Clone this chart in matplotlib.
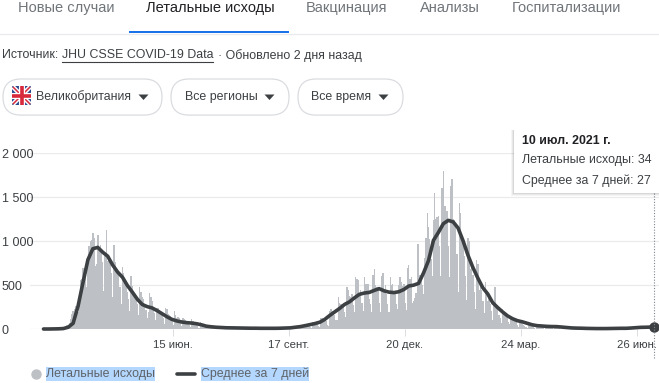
# -*- coding: utf-8 -*-

import numpy as np
import pandas as pd
import matplotlib
matplotlib.use('Agg')
import matplotlib.pyplot as plt
import matplotlib.dates as mdates
from matplotlib.patches import FancyBboxPatch, Rectangle, Polygon

plt.rcParams['font.family'] = ['Liberation Sans', 'DejaVu Sans']

# дневные значения, по неделям пн..вс, первая неделя с 2 марта 2020
daily_deaths = [
    0, 0, 0, 0, 1, 1, 0,
    1, 0, 2, 3, 2, 4, 5,
    5, 10, 15, 20, 30, 40, 45,
    70, 110, 170, 200, 230, 260, 230,
    190, 380, 560, 570, 690, 700, 660,
    480, 790, 950, 1000, 1010, 1095, 1040,
    720, 740, 1068, 900, 960, 880, 760,
    430, 830, 1130, 780, 800, 790, 640,
    360, 955, 760, 680, 650, 620, 480,
    280, 708, 640, 550, 500, 420, 340,
    200, 602, 490, 430, 380, 340, 280,
    160, 480, 420, 360, 340, 280, 220,
    120, 190, 405, 370, 320, 240, 180,
    100, 245, 240, 220, 200, 170, 130,
    60, 245, 230, 170, 160, 150, 100,
    50, 200, 160, 130, 140, 120, 80,
    30, 125, 110, 100, 90, 70, 50,
    20, 110, 95, 80, 70, 50, 35,
    15, 85, 70, 60, 50, 30, 20,
    8, 45, 40, 30, 25, 15, 10,
    5, 30, 28, 22, 20, 12, 6,
    3, 22, 20, 15, 14, 9, 5,
    2, 18, 16, 12, 10, 7, 4,
    2, 14, 12, 10, 9, 5, 3,
    1, 12, 12, 9, 8, 6, 2,
    1, 11, 10, 9, 8, 5, 2,
    2, 11, 11, 9, 8, 6, 3,
    2, 12, 10, 10, 9, 7, 3,
    3, 15, 14, 12, 10, 8, 5,
    4, 25, 22, 20, 18, 15, 10,
    10, 50, 48, 40, 35, 30, 20,
    15, 75, 70, 65, 60, 55, 35,
    20, 130, 125, 110, 100, 90, 50,
    30, 210, 230, 200, 180, 160, 100,
    100, 360, 300, 280, 270, 260, 190,
    140, 480, 450, 380, 370, 400, 270,
    190, 590, 570, 560, 380, 450, 300,
    210, 590, 510, 510, 510, 340, 280,
    190, 610, 685, 500, 480, 480, 300,
    190, 600, 640, 420, 500, 400, 280,
    190, 590, 500, 510, 420, 400, 280,
    230, 500, 595, 530, 490, 510, 300,
    220, 690, 735, 570, 590, 300, 320,
    350, 410, 965, 970, 620, 610, 500,
    400, 810, 1040, 1320, 1160, 1030, 800,
    600, 1240, 1555, 1250, 1280, 1290, 950,
    600, 1610, 1805, 1400, 1400, 1350, 950,
    590, 1630, 1715, 1250, 1240, 1200, 850,
    420, 1440, 1320, 1010, 1010, 830, 600,
    330, 1040, 1000, 680, 760, 620, 420,
    230, 790, 740, 450, 530, 450, 320,
    180, 535, 440, 320, 350, 290, 210,
    105, 315, 480, 240, 230, 160, 130,
    65, 230, 190, 180, 175, 120, 80,
    60, 110, 140, 95, 100, 90, 50,
    20, 95, 70, 60, 50, 30, 25,
    10, 55, 50, 40, 50, 20, 15,
    5, 20, 40, 40, 35, 30, 12,
    5, 25, 30, 30, 25, 30, 8,
    4, 20, 25, 22, 20, 10, 5,
    1, 18, 15, 14, 12, 8, 3,
    1, 3, 10, 8, 10, 7, 3,
    2, 7, 10, 8, 8, 5, 2,
    1, 7, 6, 7, 7, 6, 2,
    2, 8, 5, 6, 6, 6, 2,
    1, 1, 3, 6, 6, 8, 3,
    1, 5, 6, 8, 8, 7, 3,
    3, 10, 9, 12, 11, 11, 7,
    3, 16, 19, 15, 12, 11, 6,
    4, 20, 20, 18, 20, 22, 14,
    6, 37, 33, 27, 35, 34,
]

# среднее за 7 дней, снято через каждые 4 дня + последняя точка
avg_offsets = list(range(0, 493, 4)) + [495]
avg_values = [
    0, 0, 1, 2, 5, 20, 65, 260, 530, 790, 915, 930, 875, 830, 730, 650,
    590, 495, 420, 340, 280, 255, 240, 210, 175, 140, 110, 92, 80, 72, 68, 60,
    48, 32, 25, 20, 17, 14, 13, 12, 11, 10, 9, 9, 8, 8, 8, 8,
    9, 11, 13, 20, 27, 38, 50, 62, 78, 110, 155, 195, 235, 280, 310, 355,
    395, 410, 417, 440, 460, 435, 420, 415, 425, 450, 490, 500, 520, 640, 780, 1010,
    1100, 1200, 1238, 1220, 1150, 1005, 840, 700, 580, 470, 400, 300, 245, 195, 150, 118,
    95, 82, 65, 48, 38, 34, 30, 28, 27, 22, 17, 12, 10, 9, 7, 6,
    5, 5, 5, 6, 7, 8, 8, 11, 15, 19, 20, 22, 27,
]

start_date = '2020-03-02'
tick_dates = ['2020-06-15', '2020-09-17', '2020-12-20', '2021-03-24', '2021-06-26']
tick_labels = ['15 июн.', '17 сент.', '20 дек.', '24 мар.', '26 июн.']
y_ticks = [0, 500, 1000, 1500, 2000]
y_labels = ['0', '500', '1 000', '1 500', '2 000']

tab_names = ['Новые случаи', 'Летальные исходы', 'Вакцинация', 'Анализы', 'Госпитализации']
filter_names = ['Великобритания', 'Все регионы', 'Все время']

W, H = 659, 383
days = pd.date_range(start_date, periods=len(daily_deaths))
avg_days = pd.Timestamp(start_date) + pd.to_timedelta(avg_offsets, unit='D')

fig = plt.figure(figsize=(W / 100, H / 100), dpi=100)

# область графика: ось y 0 на 329px, 2000 на 153.5px
ax = fig.add_axes([30 / W, (H - 329) / H, (W - 30) / W, 175.5 / H])
first_num = mdates.date2num(days[0])
px_per_day = 1.234
ax.set_xlim(first_num - (43.5 - 30) / px_per_day, first_num + (W - 43.5) / px_per_day)
ax.set_ylim(0, 2000)

ax.bar(days, daily_deaths, width=1.15, color='#bdc1c6', linewidth=0, zorder=2)
ax.plot(avg_days, avg_values, color='#3c4043', lw=2.6, zorder=4, solid_capstyle='round',
        clip_on=False)
ax.plot(days[-1], avg_values[-1], 'o', color='#3c4043', ms=6.5, zorder=5, clip_on=False)

for s in ax.spines.values():
    s.set_visible(False)
ax.set_yticks(y_ticks)
ax.set_yticklabels(y_labels, color='#3c4043', fontsize=9)
for lab in ax.get_yticklabels():
    lab.set_ha('left')
ax.tick_params(axis='y', length=0, pad=20.5)
ax.set_xticks(mdates.date2num(pd.to_datetime(tick_dates)))
ax.set_xticklabels(tick_labels, color='#3c4043', fontsize=8.2)
ax.tick_params(axis='x', length=5, width=0.7, color='#dadce0', pad=3)
ax.grid(axis='y', color='#ebebeb', lw=0.9, zorder=1)
ax.set_axisbelow(True)
ax.patch.set_alpha(0)

# интерфейс в пикселях
ui = fig.add_axes([0, 0, 1, 1], zorder=5)
ui.set_xlim(0, W)
ui.set_ylim(H, 0)
ui.axis('off')
ui.patch.set_alpha(0)

tab_x = [18, 146, 306, 420, 512]
for i, name in enumerate(tab_names):
    ui.text(tab_x[i], 8, name, fontsize=10.5, va='center',
            color='#202124' if i == 1 else '#70757a')
ui.plot([0, W], [33.5, 33.5], color='#e8eaed', lw=0.9)
ui.add_patch(Rectangle((129, 30.5), 160, 2.6, color='#1a73e8', lw=0))

ui.text(2, 55.5, 'Источник:', fontsize=8.95, va='center', color='#3c4043')
ui.text(62, 55.5, 'JHU CSSE COVID-19 Data', fontsize=8.95, va='center', color='#3c4043')
ui.plot([62, 213], [62, 62], color='#3c4043', lw=0.8)
ui.text(218, 55.5, '· Обновлено 2 дня назад', fontsize=8.95, va='center', color='#3c4043')

pill_boxes = [(3, 162), (171, 289), (298, 403)]
pill_text = [36, 185, 311]
arrow_x = [143.5, 269.5, 383.5]
for i, name in enumerate(filter_names):
    x0, x1 = pill_boxes[i]
    ui.add_patch(FancyBboxPatch((x0 + 18, 97), x1 - x0 - 36, 0.1,
                                boxstyle='round,pad=18', fc='white', ec='#dadce0', lw=0.9,
                                mutation_aspect=1))
    ui.text(pill_text[i], 97, name, fontsize=8.95, va='center', color='#3c4043')
    ax_ = arrow_x[i]
    ui.add_patch(Polygon([[ax_ - 5, 94.5], [ax_ + 5, 94.5], [ax_, 100]], color='#3c4043', lw=0))

# флаг
ui.add_patch(FancyBboxPatch((13, 87), 17, 17, boxstyle='round,pad=1', fc='#2a4a8f', ec='none'))
ui.plot([13, 30], [87, 104], color='white', lw=3.2, solid_capstyle='butt')
ui.plot([13, 30], [104, 87], color='white', lw=3.2, solid_capstyle='butt')
ui.plot([13, 30], [87, 104], color='#d8283c', lw=1.1, solid_capstyle='butt')
ui.plot([13, 30], [104, 87], color='#d8283c', lw=1.1, solid_capstyle='butt')
ui.plot([21.5, 21.5], [86, 105], color='white', lw=4.4, solid_capstyle='butt')
ui.plot([12, 31], [95.5, 95.5], color='white', lw=4.4, solid_capstyle='butt')
ui.plot([21.5, 21.5], [86, 105], color='#d8283c', lw=2.6, solid_capstyle='butt')
ui.plot([12, 31], [95.5, 95.5], color='#d8283c', lw=2.6, solid_capstyle='butt')

# пунктир и подсказка
ui.plot([654.3, 654.3], [193, 358], color='#80868b', lw=0.8, ls=(0, (1, 1.5)), zorder=1)
for grow, alpha in [(3, 0.04), (2, 0.05), (1, 0.07)]:
    ui.add_patch(Rectangle((514 - grow, 130), 150, 63 + grow, fc='black', alpha=alpha, lw=0))
ui.add_patch(Rectangle((514, 129), 150, 64, fc='white', lw=0))
ui.text(522, 141, '10 июл. 2021 г.', fontsize=8.95, fontweight='bold', va='center', color='#202124')
ui.text(522, 160, 'Летальные исходы: 34', fontsize=8.95, va='center', color='#3c4043')
ui.text(522, 181, 'Среднее за 7 дней: 27', fontsize=8.95, va='center', color='#3c4043')

# легенда с выделением
ui.add_patch(Rectangle((46, 367), 109, 14, fc='#b3d7ff', lw=0))
ui.add_patch(Rectangle((201, 367), 108, 14, fc='#b3d7ff', lw=0))
ui.plot(36, 374, 'o', color='#bdc1c6', ms=6.5)
ui.plot([177, 195], [373.5, 373.5], color='#3c4043', lw=2.6, solid_capstyle='round')
ui.text(46, 374, 'Летальные исходы', fontsize=8.95, va='center', color='#5f6368')
ui.text(201, 374, 'Среднее за 7 дней', fontsize=8.95, va='center', color='#5f6368')

fig.savefig('out.png', dpi=100, facecolor='white')
